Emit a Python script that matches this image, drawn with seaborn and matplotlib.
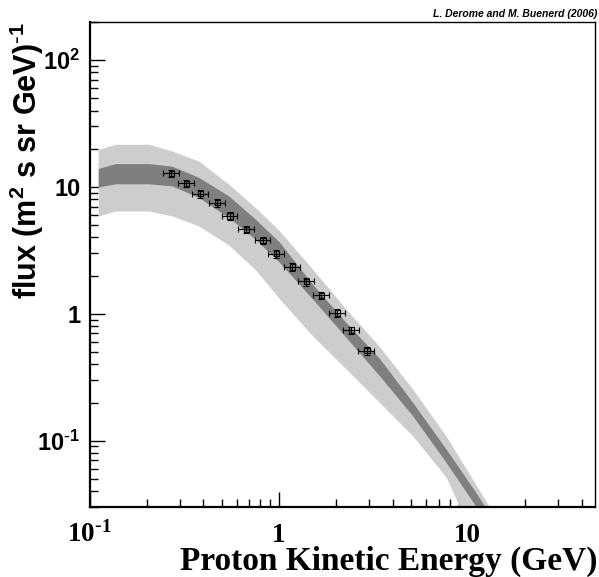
import matplotlib
matplotlib.use("Agg")
import matplotlib.pyplot as plt
import seaborn as sns
import pandas as pd

# band edges (GeV, flux)
band_e = [0.111, 0.137, 0.206, 0.273, 0.378, 0.545, 0.753, 1.01, 1.51, 2.27, 3.41, 5.11, 7.66, 10.8, 14.6]
light_hi = [19.8, 21.7, 21.7, 19.2, 16.0, 10.5, 6.88, 4.51, 2.25, 1.09, 0.552, 0.255, 0.109, 0.0473, 0.0227]
light_lo = [5.91, 6.47, 6.47, 5.91, 4.93, 3.48, 2.23, 1.31, 0.671, 0.367, 0.200, 0.109, 0.0518, 0.0168, 0.0057]
dark_hi = [14.0, 15.3, 15.3, 14.6, 11.9, 8.49, 5.57, 3.67, 1.71, 0.855, 0.445, 0.200, 0.0861, 0.0409, 0.0202]
dark_lo = [10.0, 10.6, 10.6, 10.2, 8.26, 5.74, 3.87, 2.54, 1.31, 0.652, 0.325, 0.157, 0.0676, 0.0318, 0.0154]

# data points
pt_e = [0.271, 0.325, 0.385, 0.474, 0.551, 0.675, 0.826, 0.971, 1.18, 1.40, 1.68, 2.04, 2.42, 2.92]
pt_flux = [12.8, 10.7, 8.87, 7.53, 5.91, 4.64, 3.80, 2.99, 2.34, 1.80, 1.40, 1.02, 0.743, 0.513]
pt_eerr = [0.026, 0.031, 0.037, 0.045, 0.052, 0.064, 0.078, 0.092, 0.11, 0.13, 0.16, 0.19, 0.23, 0.28]
pt_ferr = [0.9, 0.75, 0.62, 0.53, 0.41, 0.32, 0.27, 0.21, 0.16, 0.13, 0.10, 0.07, 0.05, 0.036]

x_ticks = [0.1, 1, 10]
x_ticklabels = [r"10$^{\text{-}1}$", "1", "10"]
y_ticks = [0.1, 1, 10, 100]
y_ticklabels = [r"10$^{\text{-}1}$", "1", "10", "10$^{2}$"]

sns.set_style("white")
plt.rcParams["mathtext.default"] = "regular"
plt.rcParams["font.family"] = ["Liberation Sans", "DejaVu Sans"]
plt.rcParams["text.color"] = "black"
plt.rcParams["xtick.color"] = "black"
plt.rcParams["ytick.color"] = "black"
plt.rcParams["axes.labelcolor"] = "black"

df_band = pd.DataFrame({"E": band_e, "lhi": light_hi, "llo": light_lo, "dhi": dark_hi, "dlo": dark_lo})
df_pts = pd.DataFrame({"E": pt_e, "flux": pt_flux})

fig = plt.figure(figsize=(5.99, 5.77), dpi=100)
ax = fig.add_axes([0.1496, 0.1213, 0.8437, 0.8406])
ax.set_xscale("log")
ax.set_yscale("log")

ax.fill_between(df_band["E"], df_band["llo"], df_band["lhi"], color="#cdcdcd", lw=0)
ax.fill_between(df_band["E"], df_band["dlo"], df_band["dhi"], color="#7f7f7f", lw=0)

ax.errorbar(pt_e, pt_flux, xerr=pt_eerr, yerr=pt_ferr, fmt="none",
            ecolor="black", elinewidth=0.8, capsize=1.9, capthick=0.8)
sns.scatterplot(data=df_pts, x="E", y="flux", ax=ax, marker="s", s=16,
                facecolors="none", edgecolors="black", linewidth=0.8, zorder=5)

ax.set_xlim(0.1, 47)
ax.set_ylim(0.03, 200)

ax.set_xticks(x_ticks)
ax.set_xticklabels(x_ticklabels, family="Liberation Serif", fontweight="bold", fontsize=19.5)
ax.set_yticks(y_ticks)
ax.set_yticklabels(y_ticklabels, family="Liberation Sans", fontweight="bold", fontsize=17)
for t in ax.xaxis.get_major_ticks():
    t.label1.set_va("baseline")

ax.tick_params(which="both", direction="in", bottom=True, left=True, top=False, right=False,
               width=1, color="black")
ax.tick_params(which="major", length=11)
ax.tick_params(which="minor", length=5.5)
ax.tick_params(axis="x", which="major", pad=25)
ax.tick_params(axis="y", which="major", pad=6.5)

for s in ["top", "right"]:
    ax.spines[s].set_linewidth(1.0)
for s in ["left", "bottom"]:
    ax.spines[s].set_linewidth(1.6)
for s in ax.spines.values():
    s.set_color("black")

ax.set_xlabel("Proton Kinetic Energy (GeV)", family="Liberation Serif", fontweight="bold",
              fontsize=24, loc="right")
ax.xaxis.set_label_coords(1.005, -0.079)
ax.xaxis.label.set_va("top")
ax.set_ylabel(r"flux (m$^{2}$ s sr GeV)$^{\text{-}1}$", family="Liberation Sans", fontweight="bold",
              fontsize=22, loc="top")
ax.yaxis.set_label_coords(-0.086, 1.0)

fig.text(0.997, 1 - 17 / 577, "L. Derome and M. Buenerd (2006)", ha="right", va="baseline",
         fontsize=7.5, fontstyle="italic", fontweight="bold", family="Liberation Sans")

fig.savefig("out.png", dpi=100)
